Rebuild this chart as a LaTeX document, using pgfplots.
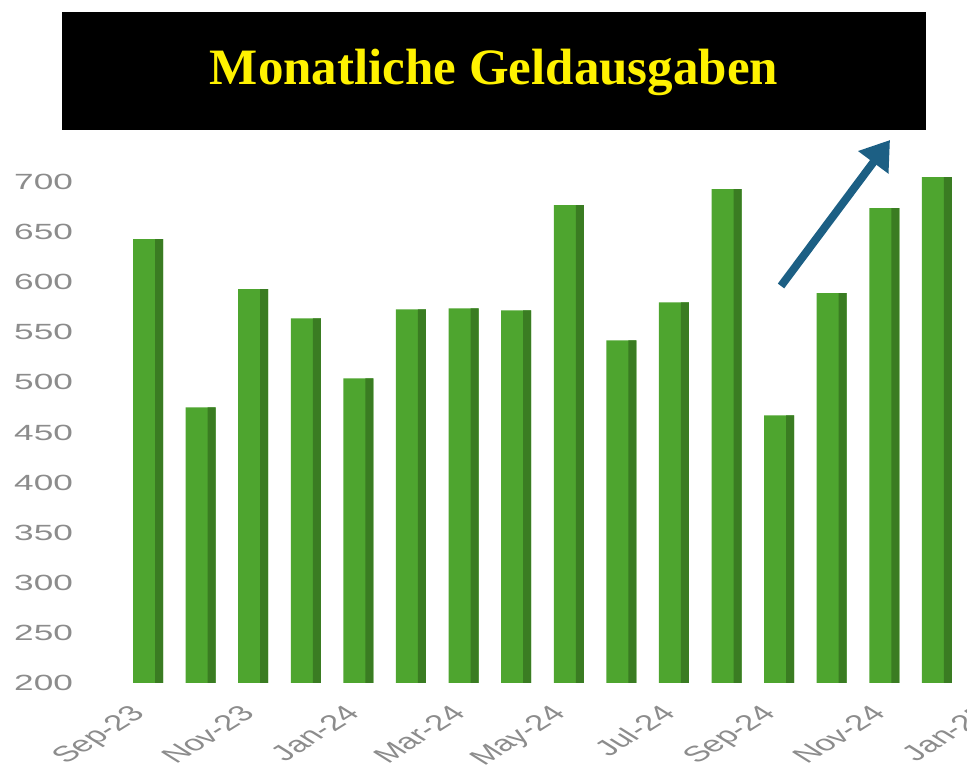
\documentclass[border=0pt]{standalone}
\usepackage{fontspec}
\setmainfont{Liberation Sans}
\newfontfamily\titlefont{Liberation Serif}
\usepackage{graphicx}
\usepackage{pgfplots}
\pgfplotsset{compat=1.18}
\usetikzlibrary{arrows.meta}
\definecolor{barlight}{HTML}{4EA52F}
\definecolor{bardark}{HTML}{3A7C22}
\definecolor{tickgray}{HTML}{8C8C8C}
\definecolor{arrowblue}{HTML}{1C5F84}
\newcommand{\xl}[1]{\scalebox{1.6}[1]{\rotatebox{45}{#1}}}
\begin{document}
\begin{tikzpicture}
\useasboundingbox (0,0) rectangle (483.5pt,384.5pt);
\clip (0,0) rectangle (483.5pt,384.5pt);
\begin{axis}[
  at={(40pt,43pt)}, anchor=south west,
  scale only axis,
  width=460pt, height=260.5pt,
  xmin=-1.293, xmax=16.2,
  ymin=200, ymax=720,
  axis line style={draw=none},
  tick style={draw=none},
  xtick={0,2,...,16},
  xticklabels={\xl{Sep-23},\xl{Nov-23},\xl{Jan-24},\xl{Mar-24},\xl{May-24},\xl{Jul-24},\xl{Sep-24},\xl{Nov-24},\xl{Jan-25}},
  xticklabel style={font=\fontsize{11}{13}\selectfont, text=tickgray, anchor=north east, inner sep=0pt, yshift=-6pt, xshift=2pt},
  ytick={200,250,...,700},
  yticklabel={\scalebox{1.6}[1]{\pgfmathprintnumber[assume math mode=true]{\tick}}},
  yticklabel style={font=\fontsize{11}{13}\selectfont, text=tickgray},
  ybar, clip=true,
]
\addplot[fill=barlight, draw=none, bar width=15pt, bar shift=0pt] coordinates {
(0,643) (1,475) (2,593) (3,564) (4,504) (5,573) (6,574) (7,572)
(8,677) (9,542) (10,580) (11,693) (12,467) (13,589) (14,674) (15,705)};
\addplot[fill=bardark, draw=none, bar width=4pt, bar shift=5.5pt] coordinates {
(0,643) (1,475) (2,593) (3,564) (4,504) (5,573) (6,574) (7,572)
(8,677) (9,542) (10,580) (11,693) (12,467) (13,589) (14,674) (15,705)};
\end{axis}
\begin{scope}[x=0.5pt,y=0.5pt]
\fill[black] (62,639) rectangle (926,757);
\node[text=yellow, font=\titlefont\bfseries\fontsize{25.5}{30}\selectfont] at (494,697) {Monatliche Geldausgaben};
\draw[arrowblue, line width=4pt, -{Triangle[length=14pt,width=18pt]}] (781,483) -- (890,629);
\end{scope}
\end{tikzpicture}
\end{document}
